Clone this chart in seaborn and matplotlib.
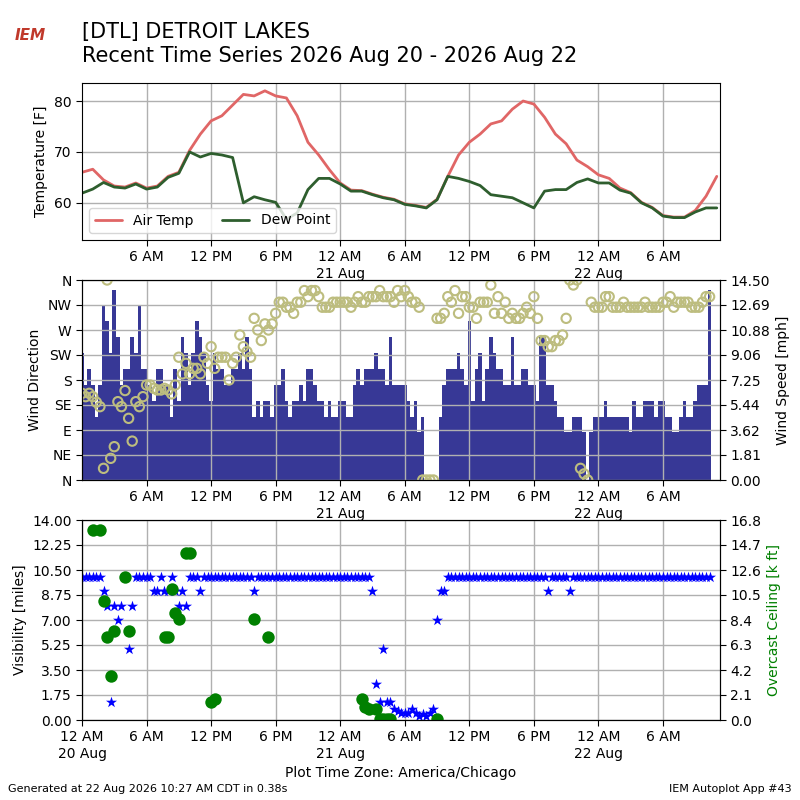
import numpy as np
import pandas as pd
import matplotlib
matplotlib.use('Agg')
import matplotlib.pyplot as plt
import seaborn as sns

# hourly temperature / dew point [F], starting 20 Aug 12 AM
temp_f = [66, 66.6, 64.5, 63.3, 63.1, 63.9, 62.9, 63.3, 65.2, 66, 70.3, 73.5, 76.1, 77.1, 79.2,
          81.3, 81, 82, 81, 80.6, 77.1, 71.9, 69.4, 66.5, 63.9, 62.5, 62.4, 61.7, 61.1, 60.7,
          59.8, 59.5, 59.1, 60.7, 65.2, 69.4, 71.9, 73.5, 75.5, 76.1, 78.4, 80, 79.4, 76.8, 73.5,
          71.6, 68.4, 67.1, 65.5, 64.8, 62.9, 62, 60.1, 59.1, 57.5, 57.2, 57.2, 58.5, 61.3, 65.2]
dewp_f = [61.9, 62.7, 64, 63.1, 62.9, 63.7, 62.7, 63.1, 65, 65.8, 70, 69, 69.7, 69.4, 68.9,
          60, 61.2, 60.6, 60.1, 56.8, 58, 62.6, 64.8, 64.8, 63.7, 62.3, 62.3, 61.6, 61, 60.6,
          59.7, 59.4, 59, 60.6, 65.2, 64.8, 64.2, 63.4, 61.6, 61.3, 61, 60, 59, 62.3, 62.6,
          62.6, 64, 64.7, 63.9, 63.9, 62.5, 61.9, 60, 59, 57.4, 57.1, 57.1, 58.2, 59, 59]

# 20-minute observations
wind_kt = [8, 6, 7, 6, 4, 6, 11, 10, 8, 12, 9, 6, 7, 7, 9, 8, 11, 7, 7, 6,
           5, 7, 7, 6, 6, 4, 7, 5, 9, 8, 6, 8, 10, 9, 8, 6, 5, 8, 7, 7,
           6, 6, 7, 7, 8, 7, 9, 7, 4, 5, 4, 5, 5, 4, 6, 6, 7, 5, 4, 5,
           5, 6, 5, 7, 7, 6, 5, 5, 4, 5, 4, 4, 5, 5, 4, 4, 6, 7, 6, 7,
           7, 7, 8, 7, 7, 6, 9, 6, 6, 6, 6, 5, 4, 5, 3, 4, 0, 0, 0, 0, 4,
           6, 7, 7, 7, 8, 7, 6, 10, 5, 7, 8, 5, 7, 9, 8, 7, 7, 6, 6, 9,
           6, 6, 7, 7, 6, 6, 5, 9, 9, 6, 6, 5, 4, 4, 3, 3, 4, 4, 4, 3,
           0, 3, 4, 4, 4, 5, 4, 4, 4, 4, 4, 4, 3, 5, 4, 4, 5, 5, 5, 4,
           5, 5, 4, 4, 3, 3, 4, 5, 4, 4, 5, 6, 6, 6, 12]
wind_dir = [156, 150, 156, 150, 140, 132, 21, 360, 39, 60, 141, 132, 161, 111, 70, 141, 132, 150, 171, 171,
            165, 162, 162, 165, 162, 155, 171, 221, 191, 210, 191, 201, 201, 191, 221, 210, 240, 201, 221, 221,
            221, 180, 210, 221, 261, 240, 231, 221, 291, 270, 251, 281, 270, 281, 300, 320, 320, 311, 311, 300,
            320, 320, 341, 330, 341, 341, 330, 311, 311, 311, 320, 320, 320, 320, 320, 311, 320, 330, 320, 320,
            330, 330, 330, 341, 330, 330, 330, 320, 341, 330, 341, 330, 320, 320, 311, 0, 0, 0, 0, 291,
            291, 300, 330, 320, 341, 300, 330, 330, 311, 311, 291, 320, 320, 320, 351, 300, 330, 300, 320, 291,
            300, 291, 291, 300, 311, 300, 330, 291, 251, 251, 240, 240, 251, 251, 261, 291, 360, 351, 360, 21,
            11, 0, 320, 311, 311, 311, 330, 330, 311, 311, 311, 320, 311, 311, 311, 311, 311, 320, 311, 311,
            311, 311, 320, 320, 330, 311, 320, 320, 320, 320, 311, 311, 311, 320, 330, 330]
vis_mi = ([10] * 6 + [9, 8, 1.25, 8, 7, 8, 10, 5, 8] + [10] * 5
          + [9, 9, 10, 9, 9, 10, 9, 8, 9, 8] + [10, 10, 10, 9] + [10] * 14 + [9] + [10] * 32
          + [9, 2.5, 1.25, 5, 1.25, 1.25, 0.8, 0.6, 0.5, 0.5, 0.5, 0.8, 0.5, 0.3, 0.4, 0.3, 0.5, 0.8, 7, 9, 9]
          + [10] * 28 + [9] + [10] * 5 + [9] + [10] * 39)

ceil_hr = [1.0, 1.67, 2, 2.33, 2.67, 3, 4, 4.33, 7.67, 8, 8.33, 8.67, 9, 9.67, 10, 12, 12.33,
           16, 17.33, 26, 26.33, 26.67, 27.33, 27.67, 28, 28.33, 28.67, 33]
ceil_kft = [16, 16, 10, 7, 3.7, 7.5, 12, 7.5, 7, 7, 11, 9, 8.5, 14, 14, 1.55, 1.77,
            8.5, 7, 1.77, 1.1, 0.93, 0.93, 0.1, 0.1, 0.1, 0.1, 0.1]

sns.set_style('white')
plt.rcParams['font.family'] = 'DejaVu Sans'
plt.rcParams.update({'text.color': 'black', 'axes.labelcolor': 'black',
                     'xtick.color': 'black', 'ytick.color': 'black', 'axes.edgecolor': 'black'})

n = min(len(wind_kt), len(wind_dir), len(vis_mi))
obs = pd.DataFrame({'hr': np.arange(n) / 3.0,
                    'sknt': np.array(wind_kt[:n], float),
                    'drct': wind_dir[:n],
                    'vis': vis_mi[:n]})
obs['mph'] = obs['sknt'] * 1.1508
hourly = pd.DataFrame({'hr': np.arange(len(temp_f)), 'tmpf': temp_f, 'dwpf': dewp_f})
ceil = pd.DataFrame({'hr': ceil_hr, 'kft': ceil_kft})

XMAX = 59.3


def fmt(h):
    names = {0: '12 AM', 6: '6 AM', 12: '12 PM', 18: '6 PM'}
    s = names[h % 24]
    if h % 24 == 0:
        s += '\n%d Aug' % (20 + h // 24)
    return s


def setup_x(ax, start):
    ticks = list(range(start, 59, 6))
    ax.set_xticks(ticks)
    ax.set_xticklabels([fmt(t) for t in ticks])
    ax.set_xlim(0, XMAX)
    ax.grid(True, color='#b0b0b0', lw=1)
    ax.set_xlabel('')
    ax.tick_params(length=4, direction='out', bottom=True, left=True)


fig = plt.figure(figsize=(8, 8), dpi=100)

# temperature panel
ax1 = fig.add_axes([0.1025, 0.70, 0.7975, 0.196])
sns.lineplot(data=hourly, x='hr', y='tmpf', ax=ax1, color='#e06666', lw=2, label='Air Temp')
sns.lineplot(data=hourly, x='hr', y='dwpf', ax=ax1, color='#2e5e2e', lw=2, label='Dew Point')
ax1.set_ylim(52.7, 83.5)
ax1.set_yticks([60, 70, 80])
ax1.set_ylabel('Temperature [F]')
setup_x(ax1, 6)
ax1.legend(loc='lower left', ncol=2, fontsize=10)

# wind panel
ax2 = fig.add_axes([0.1025, 0.40, 0.7975, 0.25])
ax2r = ax2.twinx()
ax2r.bar(obs['hr'], obs['mph'], width=1 / 3, color='#373896', linewidth=0)
ax2r.set_ylim(0, 14.5)
ax2r.set_yticks(np.linspace(0, 14.5, 9))
ax2r.set_yticklabels(['%.2f' % v for v in np.linspace(0, 14.5, 9)])
ax2r.set_ylabel('Wind Speed [mph]')
ax2r.tick_params(length=4, right=True)
ax2.set_zorder(ax2r.get_zorder() + 1)
ax2.patch.set_visible(False)
sns.scatterplot(data=obs, x='hr', y='drct', ax=ax2, marker='o', s=45,
                facecolors='none', edgecolor='#bdbd7f', linewidth=1.5)
ax2.set_ylim(0, 360)
ax2.set_yticks(range(0, 361, 45))
ax2.set_yticklabels(['N', 'NE', 'E', 'SE', 'S', 'SW', 'W', 'NW', 'N'])
ax2.set_ylabel('Wind Direction')
setup_x(ax2, 6)

# visibility / ceiling panel
ax3 = fig.add_axes([0.1025, 0.10, 0.7975, 0.25])
ax3r = ax3.twinx()
sns.scatterplot(data=obs, x='hr', y='vis', ax=ax3, marker='*', s=70, color='blue',
                edgecolor='blue', linewidth=0, zorder=3)
ax3.set_ylim(0, 14)
ax3.set_yticks(np.linspace(0, 14, 9))
ax3.set_yticklabels(['%.2f' % v for v in np.linspace(0, 14, 9)])
ax3.set_ylabel('Visibility [miles]')
setup_x(ax3, 0)
ax3.set_xlabel('Plot Time Zone: America/Chicago')
sns.scatterplot(data=ceil, x='hr', y='kft', ax=ax3r, marker='o', s=80, color='green', linewidth=0)
ax3r.set_ylim(0, 16.8)
ax3r.set_yticks(np.linspace(0, 16.8, 9))
ax3r.set_yticklabels(['%.1f' % v for v in np.linspace(0, 16.8, 9)])
ax3r.set_ylabel('Overcast Ceiling [k ft]', color='green')
ax3r.tick_params(length=4, right=True)
ax3r.set_xlim(0, XMAX)

fig.text(0.1025, 0.918, '[DTL] DETROIT LAKES\nRecent Time Series 2026 Aug 20 - 2026 Aug 22',
         fontsize=15, va='bottom', ha='left', linespacing=1.2)
fig.text(0.018, 0.95, 'IEM', fontsize=11, color='#c0392b', weight='bold', style='italic')
fig.text(0.01, 0.01, 'Generated at 22 Aug 2026 10:27 AM CDT in 0.38s', fontsize=8)
fig.text(0.99, 0.01, 'IEM Autoplot App #43', fontsize=8, ha='right')

fig.savefig('out.png', dpi=100)
